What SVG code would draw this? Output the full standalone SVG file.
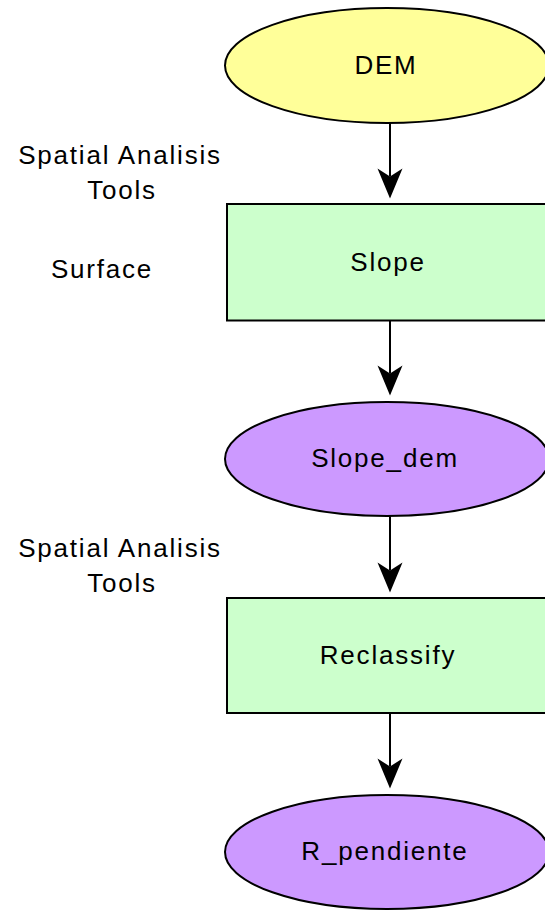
<svg xmlns="http://www.w3.org/2000/svg" width="545" height="910" viewBox="0 0 545 910">
  <style>
    .node { stroke: #000; stroke-width: 2; }
    .data { fill: #CC99FF; }
    .src { fill: #FFFF99; }
    .tool { fill: #CCFFCC; }
    text { font-family: "Liberation Sans", Arial, sans-serif; font-size: 26px; letter-spacing: 1.8px; fill: #000; text-anchor: middle; }
    .edge { stroke: #000; stroke-width: 2; fill: none; marker-end: url(#arrow); }
  </style>
  <defs>
    <marker id="arrow" markerUnits="userSpaceOnUse" markerWidth="30" markerHeight="26" refX="8" refY="13" orient="auto" overflow="visible">
      <path d="M0,0.5 L30,13 L0,25.5 L8,13 Z" fill="#000"/>
    </marker>
  </defs>
  <rect width="545" height="910" fill="#fff"/>

  <!-- tool labels -->
  <g id="labels">
    <text x="120" y="164">Spatial Analisis</text>
    <text x="122" y="199">Tools</text>
    <text x="102" y="278">Surface</text>
    <text x="120" y="557">Spatial Analisis</text>
    <text x="122" y="592">Tools</text>
  </g>

  <!-- connectors -->
  <g id="connectors">
    <path class="edge" d="M390,123 L390,176.5"/>
    <path class="edge" d="M390,321 L390,373.5"/>
    <path class="edge" d="M390,516 L390,570.5"/>
    <path class="edge" d="M390,713 L390,766.5"/>
  </g>

  <g id="dem">
    <ellipse class="node src" cx="387" cy="65.5" rx="162" ry="57.5"/>
    <text x="386" y="74">DEM</text>
  </g>

  <g id="slope">
    <rect class="node tool" x="227" y="204" width="330" height="116.5"/>
    <text x="388" y="271">Slope</text>
  </g>

  <g id="slope_dem">
    <ellipse class="node data" cx="387" cy="459" rx="162" ry="57"/>
    <text x="385" y="467">Slope_dem</text>
  </g>

  <g id="reclassify">
    <rect class="node tool" x="227" y="598" width="330" height="115"/>
    <text x="388" y="664">Reclassify</text>
  </g>

  <g id="r_pendiente">
    <ellipse class="node data" cx="387" cy="852" rx="162" ry="57"/>
    <text x="385" y="860">R_pendiente</text>
  </g>
</svg>
